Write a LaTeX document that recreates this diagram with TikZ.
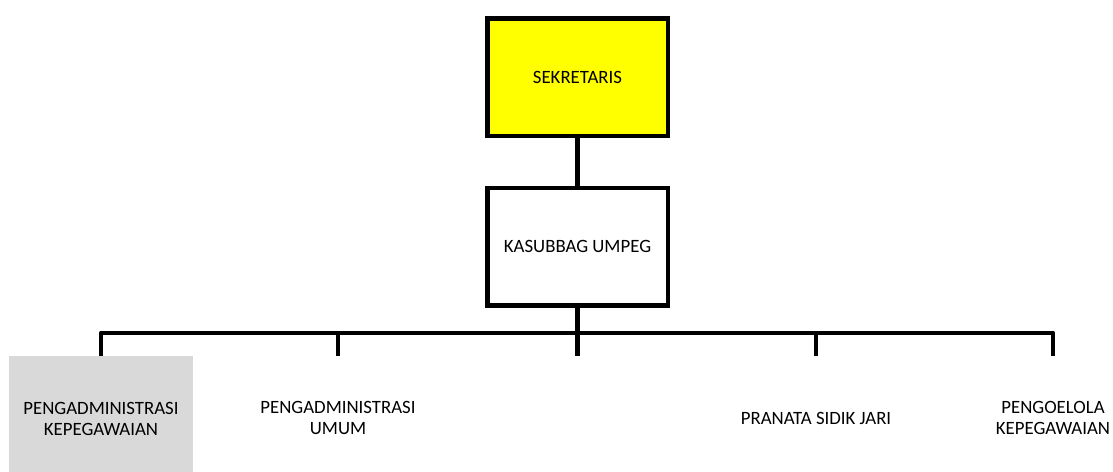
\documentclass[tikz,border=0pt]{standalone}
\usepackage{fontspec}
\setmainfont{Carlito}
\usepackage{tikz}
\definecolor{boxyellow}{RGB}{255,255,0}
\definecolor{boxgray}{RGB}{217,217,217}

\begin{document}
\begin{tikzpicture}[x=1pt,y=-1pt]
 % Chart style
\tikzset{
    unit/.style={draw=black, line width=4.5pt, minimum width=180.5pt, minimum height=117.5pt, align=center, font=\fontsize{18.8}{21.5}\selectfont},
    staff/.style={minimum width=184pt, minimum height=124pt, align=center, font=\fontsize{18.8}{21.5}\selectfont},
    wire/.style={line width=4.5pt, line join=round}
}
\useasboundingbox (0,0) rectangle (1113,471);

% Boxes
\node[unit, fill=boxyellow] (SEKR) at (577.5,77){SEKRETARIS};
\node[unit, fill=white] (KASUB) at (577.5,246.5){KASUBBAG UMPEG};

\node[staff, fill=boxgray, minimum height=126pt] (ADMKEP) at (101,419){PENGADMINISTRASI\\KEPEGAWAIAN};
\node[staff] (ADMUM) at (338,418){PENGADMINISTRASI\\UMUM};
\node[staff] (PRANATA) at (816,418){PRANATA SIDIK JARI};
\node[staff] (PENGOL) at (1053,418){PENGOELOLA\\KEPEGAWAIAN};
\coordinate (MID) at (577.5,356);

\draw[wire] (SEKR) -- (KASUB);
\draw[wire] (KASUB) -- (MID);
\draw[wire] (ADMKEP.north) -- ++(0,-23) -| (PENGOL.north);
\draw[wire] (ADMUM.north) -- ++(0,-23);
\draw[wire] (PRANATA.north) -- ++(0,-23);
\end{tikzpicture}
\end{document}
